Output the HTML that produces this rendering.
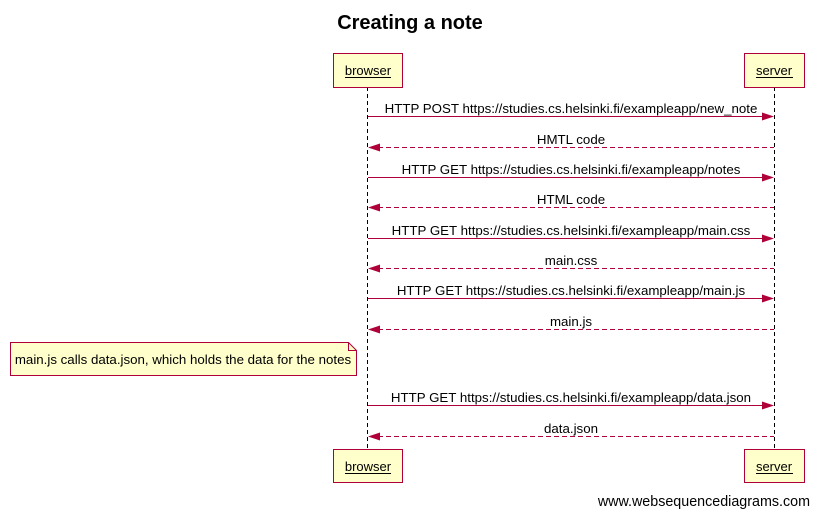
<!DOCTYPE html>
<html><head><meta charset="utf-8"><style>
html,body{margin:0;padding:0;background:#fff;}
svg{display:block;}
text{font-family:"Liberation Sans",Arial,sans-serif;fill:#000;}
</style></head><body>
<svg width="818" height="517" viewBox="0 0 818 517" xmlns="http://www.w3.org/2000/svg">
<text x="410" y="29" font-size="20" font-weight="bold" text-anchor="middle">Creating a note</text>
<line x1="367.5" y1="87" x2="367.5" y2="449" stroke="#000" stroke-width="1" stroke-dasharray="4,3"/>
<line x1="774.5" y1="87" x2="774.5" y2="449" stroke="#000" stroke-width="1" stroke-dasharray="4,3"/>
<g stroke="#b0003a" stroke-width="1" fill="#ffffcc">
<rect x="333.5" y="53.5" width="69" height="34"/>
<rect x="744.5" y="53.5" width="60" height="34"/>
<rect x="333.5" y="449.5" width="69" height="33"/>
<rect x="744.5" y="449.5" width="60" height="33"/>
</g>
<g font-size="13" text-anchor="middle">
<text x="368" y="75">browser</text>
<text x="774" y="75">server</text>
<text x="368" y="471">browser</text>
<text x="774" y="471">server</text>
</g>
<line x1="345" y1="77.5" x2="391" y2="77.5" stroke="#000" stroke-width="1"/>
<line x1="756" y1="77.5" x2="793" y2="77.5" stroke="#000" stroke-width="1"/>
<line x1="345" y1="473.5" x2="391" y2="473.5" stroke="#000" stroke-width="1"/>
<line x1="756" y1="473.5" x2="793" y2="473.5" stroke="#000" stroke-width="1"/>
<g stroke="#b0003a" stroke-width="1" fill="none">
<line x1="368" y1="116.5" x2="764" y2="116.5"/>
<line x1="378" y1="147.5" x2="774" y2="147.5" stroke-dasharray="5,3"/>
<line x1="368" y1="177.5" x2="764" y2="177.5"/>
<line x1="378" y1="207.5" x2="774" y2="207.5" stroke-dasharray="5,3"/>
<line x1="368" y1="238.5" x2="764" y2="238.5"/>
<line x1="378" y1="268.5" x2="774" y2="268.5" stroke-dasharray="5,3"/>
<line x1="368" y1="298.5" x2="764" y2="298.5"/>
<line x1="378" y1="329.5" x2="774" y2="329.5" stroke-dasharray="5,3"/>
<line x1="368" y1="405.5" x2="764" y2="405.5"/>
<line x1="378" y1="436.5" x2="774" y2="436.5" stroke-dasharray="5,3"/>
</g>
<g fill="#b0003a">
<polygon points="774,116.5 762,112.5 762,120.5"/>
<polygon points="368,147.5 380,143.5 380,151.5"/>
<polygon points="774,177.5 762,173.5 762,181.5"/>
<polygon points="368,207.5 380,203.5 380,211.5"/>
<polygon points="774,238.5 762,234.5 762,242.5"/>
<polygon points="368,268.5 380,264.5 380,272.5"/>
<polygon points="774,298.5 762,294.5 762,302.5"/>
<polygon points="368,329.5 380,325.5 380,333.5"/>
<polygon points="774,405.5 762,401.5 762,409.5"/>
<polygon points="368,436.5 380,432.5 380,440.5"/>
</g>
<g font-size="13.3" text-anchor="middle">
<text x="571" y="113">HTTP POST https://studies.cs.helsinki.fi/exampleapp/new_note</text>
<text x="571" y="144">HMTL code</text>
<text x="571" y="174">HTTP GET https://studies.cs.helsinki.fi/exampleapp/notes</text>
<text x="571" y="204">HTML code</text>
<text x="571" y="235">HTTP GET https://studies.cs.helsinki.fi/exampleapp/main.css</text>
<text x="571" y="265">main.css</text>
<text x="571" y="295">HTTP GET https://studies.cs.helsinki.fi/exampleapp/main.js</text>
<text x="571" y="326">main.js</text>
<text x="571" y="402">HTTP GET https://studies.cs.helsinki.fi/exampleapp/data.json</text>
<text x="571" y="433">data.json</text>
</g>
<path d="M10.5,342.5 H348.5 L356.5,350.5 V375.5 H10.5 Z" fill="#ffffcc" stroke="#b0003a" stroke-width="1"/>
<path d="M348.5,342.5 V350.5 H356.5" fill="none" stroke="#b0003a" stroke-width="1"/>
<text x="183" y="364" font-size="13.3" text-anchor="middle">main.js calls data.json, which holds the data for the notes</text>
<text x="810" y="506" font-size="14.3" text-anchor="end">www.websequencediagrams.com</text>
</svg>
</body></html>
